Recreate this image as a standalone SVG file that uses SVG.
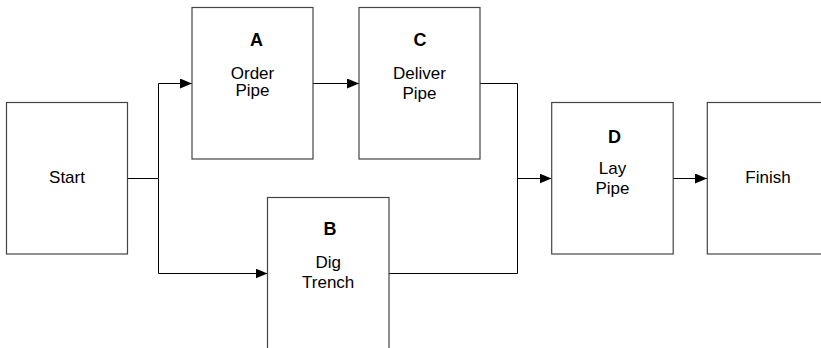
<svg xmlns="http://www.w3.org/2000/svg" width="821" height="348" viewBox="0 0 821 348">
<defs>
<style>
.box{fill:#fff;stroke:#444;stroke-width:1.2}
.t{font-family:"Liberation Sans",Arial,sans-serif;font-size:17px;fill:#000;text-anchor:middle}
.b{font-weight:bold;font-size:18px}
.c{fill:none;stroke:#000;stroke-width:1}
</style>
<marker id="ah" markerWidth="12" markerHeight="10" refX="12" refY="5" orient="auto" markerUnits="userSpaceOnUse">
<path d="M0,0 L12,5 L0,10 Z" fill="#000"/>
</marker>
</defs>
<rect width="821" height="348" fill="#fff"/>
<g id="connectors">
<path class="c" d="M127.5,178.5 H158.5 V83.5 H192" marker-end="url(#ah)"/>
<path class="c" d="M158.5,178.5 V273.5 H267.5" marker-end="url(#ah)"/>
<path class="c" d="M313,83.5 H359" marker-end="url(#ah)"/>
<path class="c" d="M480,83.5 H517.5 V273.5 H389"/>
<path class="c" d="M517.5,178.5 H551.5" marker-end="url(#ah)"/>
<path class="c" d="M673,178.5 H707" marker-end="url(#ah)"/>
</g>
<g id="start">
<rect class="box" x="6.5" y="102.5" width="121" height="151.5"/>
<text class="t" x="67" y="183">Start</text>
</g>
<g id="A">
<rect class="box" x="192" y="7.5" width="121" height="151.5"/>
<text class="t b" x="256.5" y="46">A</text>
<text class="t" x="252.5" y="79.3">Order</text>
<text class="t" x="252.5" y="95.5">Pipe</text>
</g>
<g id="C">
<rect class="box" x="359" y="7.5" width="121" height="151.5"/>
<text class="t b" x="420" y="46">C</text>
<text class="t" x="419.5" y="79.3">Deliver</text>
<text class="t" x="419.5" y="99.3">Pipe</text>
</g>
<g id="B">
<rect class="box" x="267.5" y="197.5" width="121.5" height="160"/>
<text class="t b" x="330" y="235">B</text>
<text class="t" x="328.2" y="267.5">Dig</text>
<text class="t" x="328.2" y="287.5">Trench</text>
</g>
<g id="D">
<rect class="box" x="551.7" y="102.5" width="121.5" height="151.5"/>
<text class="t b" x="614.5" y="142.7">D</text>
<text class="t" x="612.5" y="173.5">Lay</text>
<text class="t" x="612.5" y="193.5">Pipe</text>
</g>
<g id="finish">
<rect class="box" x="707.3" y="102.5" width="121.5" height="151.5"/>
<text class="t" x="768" y="183">Finish</text>
</g>
</svg>
